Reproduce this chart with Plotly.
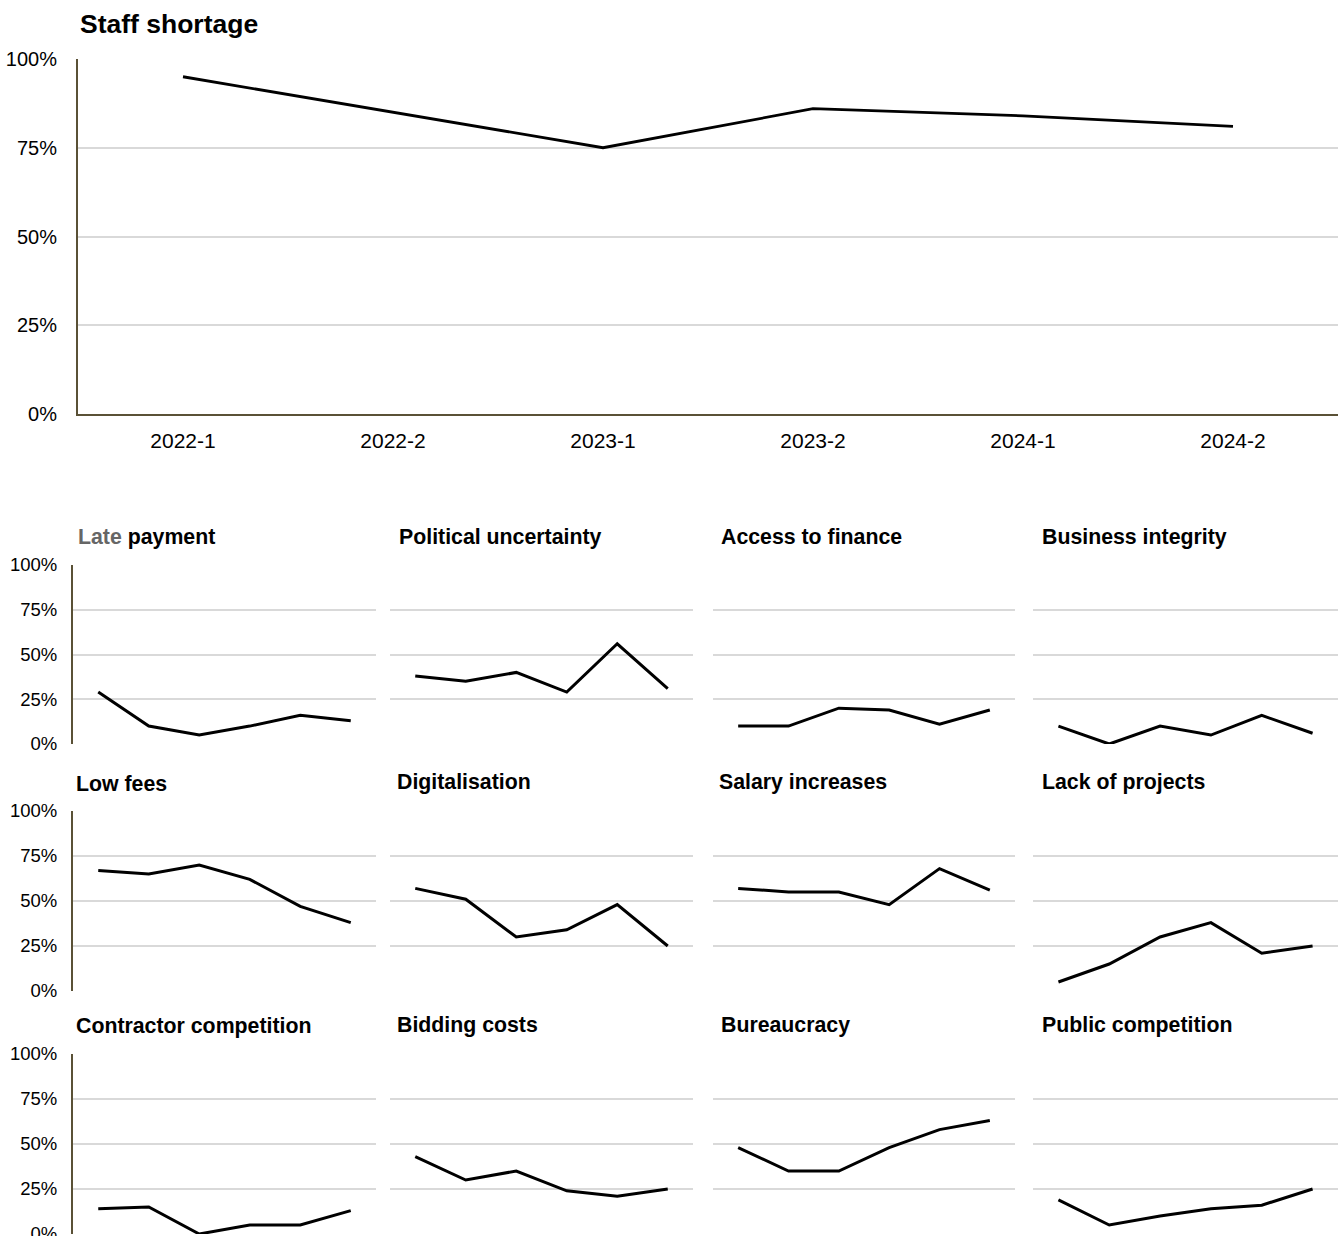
import plotly.graph_objects as go

W, H = 1340, 1236

periods = ["2022-1", "2022-2", "2023-1", "2023-2", "2024-1", "2024-2"]
y_tick_vals = [0, 25, 50, 75, 100]
y_tick_text = ["0%", "25%", "50%", "75%", "100%"]

main_title = "Staff shortage"
staff_shortage = [95, 85, 75, 86, 84, 81]

small_titles = [
    "<span style='color:#666666'>Late</span> payment", "Political uncertainty", "Access to finance", "Business integrity",
    "Low fees", "Digitalisation", "Salary increases", "Lack of projects",
    "Contractor competition", "Bidding costs", "Bureaucracy", "Public competition",
]
late_payment = [29, 10, 5, 10, 16, 13]
political_uncertainty = [38, 35, 40, 29, 56, 31]
access_to_finance = [10, 10, 20, 19, 11, 19]
business_integrity = [10, 0, 10, 5, 16, 6]
low_fees = [67, 65, 70, 62, 47, 38]
digitalisation = [57, 51, 30, 34, 48, 25]
salary_increases = [57, 55, 55, 48, 68, 56]
lack_of_projects = [5, 15, 30, 38, 21, 25]
contractor_competition = [14, 15, 0, 5, 5, 13]
bidding_costs = [43, 30, 35, 24, 21, 25]
bureaucracy = [48, 35, 35, 48, 58, 63]
public_competition = [19, 5, 10, 14, 16, 25]

small_series = [
    late_payment, political_uncertainty, access_to_finance, business_integrity,
    low_fees, digitalisation, salary_increases, lack_of_projects,
    contractor_competition, bidding_costs, bureaucracy, public_competition,
]

FONT = "Liberation Sans, Arial, Helvetica, sans-serif"
GRID = "#d9d9d9"
AXIS = "#5a5136"

def px_x(v):
    return v / W

def px_y(v):
    return 1 - v / H

fig = go.Figure()
layout = dict(
    width=W, height=H,
    margin=dict(l=0, r=0, t=0, b=0, autoexpand=False),
    paper_bgcolor="white", plot_bgcolor="white",
    showlegend=False,
    font=dict(family=FONT, color="#000000"),
    annotations=[],
)

# main chart
fig.add_trace(go.Scatter(x=periods, y=staff_shortage, mode="lines",
                         line=dict(color="black", width=2.8), xaxis="x", yaxis="y",
                         cliponaxis=False, hoverinfo="skip"))
layout["xaxis"] = dict(domain=[px_x(78), px_x(1338)], anchor="y", type="category",
                       range=[-0.5, 5.5], showgrid=False, showline=True, automargin=False,
                       linecolor=AXIS, linewidth=2, ticks="", ticklabelstandoff=7,
                       tickfont=dict(size=21, family=FONT, color="#000"), zeroline=False)
layout["yaxis"] = dict(domain=[px_y(414), px_y(59)], anchor="x", range=[0, 100],
                       tickvals=y_tick_vals, ticktext=y_tick_text, showgrid=True, automargin=False,
                       gridcolor=GRID, gridwidth=1.5, showline=True, linecolor=AXIS,
                       linewidth=2, ticks="", ticklabelstandoff=15, zeroline=False,
                       tickfont=dict(size=20, family=FONT, color="#000"))
layout["annotations"].append(dict(text="<b>" + main_title + "</b>", x=px_x(78), y=px_y(24),
                                  xref="paper", yref="paper", xanchor="left", yanchor="middle",
                                  showarrow=False, font=dict(size=26.5, family=FONT, color="#000")))

cols = [(73, 376), (390, 693), (713, 1015), (1033, 1338)]
rows = [(565, 744), (811, 991), (1054, 1234)]
title_pos = [
    [(76, 537), (397, 537), (719, 537), (1040, 537)],
    [(74, 784), (395, 782), (717, 782), (1040, 782)],
    [(74, 1026), (395, 1025), (719, 1025), (1040, 1025)],
]

for i, vals in enumerate(small_series):
    r, c = divmod(i, 4)
    n = i + 2
    xa, ya = f"x{n}", f"y{n}"
    fig.add_trace(go.Scatter(x=periods, y=vals, mode="lines",
                             line=dict(color="black", width=3), xaxis=xa, yaxis=ya,
                             cliponaxis=False, hoverinfo="skip"))
    x0, x1 = cols[c]
    y0, y1 = rows[r]
    layout[f"xaxis{n}"] = dict(domain=[px_x(x0), px_x(x1)], anchor=ya, type="category",
                               range=[-0.5, 5.5], showgrid=False, showline=False, automargin=False,
                               showticklabels=False, ticks="", zeroline=False)
    layout[f"yaxis{n}"] = dict(domain=[px_y(y1), px_y(y0)], anchor=xa, range=[0, 100],
                               tickvals=y_tick_vals, ticktext=y_tick_text, showgrid=True,
                               gridcolor=GRID, gridwidth=1.5, zeroline=False, ticks="",
                               showline=(c == 0), linecolor=AXIS, linewidth=2, automargin=False,
                               showticklabels=(c == 0), ticklabelstandoff=10,
                               ticklabeloverflow="allow",
                               tickfont=dict(size=18.5, family=FONT, color="#000"))
    tx, ty = title_pos[r][c]
    layout["annotations"].append(dict(text="<b>" + small_titles[i] + "</b>", x=px_x(tx), y=px_y(ty),
                                      xref="paper", yref="paper", xanchor="left", yanchor="middle",
                                      showarrow=False, font=dict(size=21.3, family=FONT, color="#000")))

fig.update_layout(**layout)
fig.write_html("out.html")
